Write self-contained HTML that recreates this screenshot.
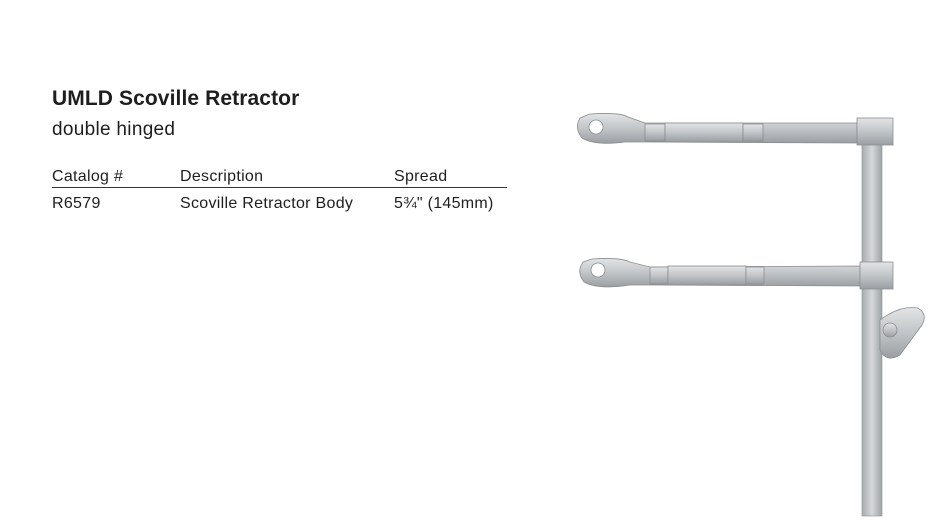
<!DOCTYPE html>
<html><head><meta charset="utf-8"><style>
body{margin:0;width:933px;height:526px;background:#fff;position:relative;overflow:hidden;font-family:"Liberation Sans",sans-serif;color:#1e1e1e}
.t{position:absolute;white-space:nowrap}
</style></head><body>
<div class="t" style="left:52px;top:87px;font-size:21px;font-weight:bold;letter-spacing:0.1px">UMLD Scoville Retractor</div>
<div class="t" style="left:52px;top:119px;font-size:19px;letter-spacing:0.3px">double hinged</div>
<div class="t" style="left:52px;top:168px;font-size:16px;letter-spacing:0.3px">Catalog #</div>
<div class="t" style="left:180px;top:168px;font-size:16px;letter-spacing:0.3px">Description</div>
<div class="t" style="left:394px;top:168px;font-size:16px;letter-spacing:0.3px">Spread</div>
<div style="position:absolute;left:52px;top:187px;width:455px;height:1px;background:#333"></div>
<div class="t" style="left:52px;top:195px;font-size:16px;letter-spacing:0.3px">R6579</div>
<div class="t" style="left:180px;top:195px;font-size:16px;letter-spacing:0.3px">Scoville Retractor Body</div>
<div class="t" style="left:394px;top:195px;font-size:16px;letter-spacing:0.3px">5¾" (145mm)</div>
<svg style="position:absolute;left:0;top:0" width="933" height="526">
<defs><linearGradient id="g" x1="0" y1="0" x2="0" y2="1"><stop offset="0" stop-color="#e2e4e6"/><stop offset="0.5" stop-color="#c2c5c8"/><stop offset="1" stop-color="#9a9ea2"/></linearGradient>
<linearGradient id="v" x1="0" y1="0" x2="1" y2="0"><stop offset="0" stop-color="#a8acaf"/><stop offset="0.5" stop-color="#d5d7d9"/><stop offset="1" stop-color="#9fa3a6"/></linearGradient></defs>
<rect x="862" y="140" width="20" height="376" fill="url(#v)" stroke="#8a8e91" stroke-width="0.6"/>
<g fill="url(#g)" stroke="#8a8e91" stroke-width="0.8">
<path d="M590 114 Q620 112 628 117 L645 123 L857 123 L857 143 L645 142 L625 142 Q595 146 582 138 Q574 128 580 118 Z"/>
<circle cx="596" cy="127" r="7" fill="#fff"/>
<rect x="645" y="124" width="20" height="17"/><rect x="665" y="123" width="78" height="19"/><rect x="743" y="124" width="20" height="17"/>
<rect x="857" y="118" width="36" height="27"/>
<path d="M592 259 Q620 257 630 262 L650 267 L860 266 L860 286 L650 285 L630 285 Q598 290 584 282 Q576 272 583 262 Z"/>
<circle cx="598" cy="270" r="7" fill="#fff"/>
<rect x="650" y="267" width="18" height="17"/><rect x="668" y="266" width="78" height="19"/><rect x="746" y="267" width="18" height="17"/>
<rect x="860" y="262" width="33" height="27"/>
<path d="M880 320 Q900 305 918 308 Q928 314 922 325 L900 355 Q886 363 880 350 Z"/>
<circle cx="890" cy="330" r="7"/>
</g>
</svg>
</body></html>
